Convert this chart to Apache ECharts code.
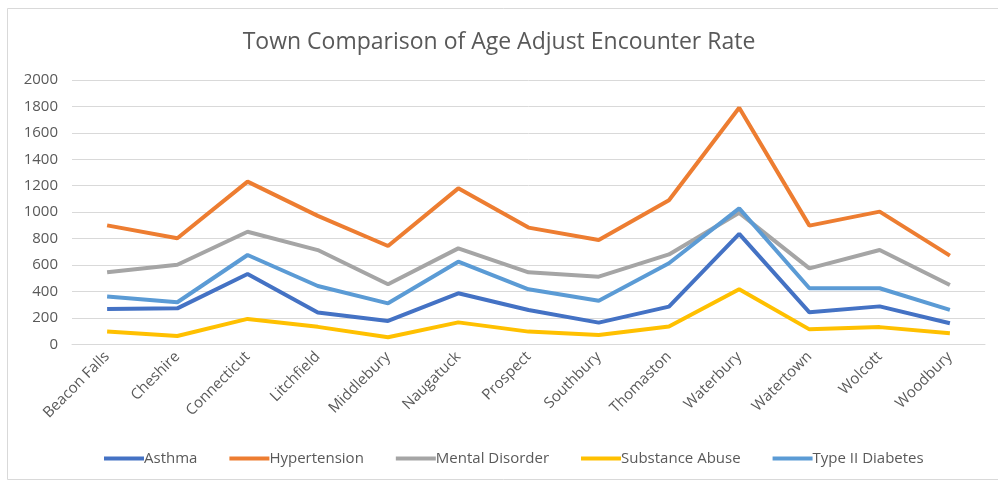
<!DOCTYPE html>
<html>
<head>
<meta charset="utf-8">
<script src="https://cdn.jsdelivr.net/npm/echarts@6/dist/echarts.min.js"></script>
<style>
html,body{margin:0;padding:0;background:#fff;}
#main{width:998px;height:482px;}
</style>
</head>
<body>
<div id="main"></div>
<script>
var categories = ['Beacon Falls','Cheshire','Connecticut','Litchfield','Middlebury','Naugatuck','Prospect','Southbury','Thomaston','Waterbury','Watertown','Wolcott','Woodbury'];
var asthma = [267, 272, 532, 240, 177, 386, 260, 164, 285, 835, 242, 287, 159];
var hypertension = [900, 802, 1231, 972, 744, 1180, 883, 789, 1090, 1790, 898, 1004, 671];
var mentalDisorder = [545, 602, 852, 713, 454, 726, 545, 512, 680, 995, 575, 714, 449];
var substanceAbuse = [96, 63, 192, 132, 53, 166, 96, 71, 134, 416, 113, 130, 83];
var typeIIDiabetes = [361, 318, 676, 441, 310, 625, 416, 330, 613, 1029, 424, 424, 260];
var yTicks = [0, 200, 400, 600, 800, 1000, 1200, 1400, 1600, 1800, 2000];

var chart = echarts.init(document.getElementById('main'));
var font = '"Open Sans", "Noto Sans", sans-serif';
function mk(name, data, color) {
  return {name: name, type: 'line', data: data, symbol: 'none', showSymbol: false,
    lineStyle: {width: 4, color: color}, itemStyle: {color: color}, animation: false};
}
chart.setOption({
  animation: false,
  backgroundColor: '#fff',
  graphic: [{type: 'rect', shape: {x: 7.5, y: 8.5, width: 1000, height: 471}, style: {fill: 'none', stroke: '#d9d9d9', lineWidth: 1}, silent: true}],
  title: {text: 'Town Comparison of Age Adjust Encounter Rate', left: 'center', top: 26,
    textStyle: {fontFamily: font, fontSize: 23, fontWeight: 'normal', color: '#595959'}},
  legend: {bottom: 11, left: 99, itemWidth: 40, itemHeight: 4, itemGap: 32,
    icon: 'rect',
    textStyle: {fontFamily: font, fontSize: 15, color: '#595959', padding: [0, 0, 0, -5]},
    data: ['Asthma','Hypertension','Mental Disorder','Substance Abuse','Type II Diabetes']},
  grid: {left: 72, right: 13, top: 80, height: 264.3, containLabel: false},
  xAxis: {type: 'category', data: categories, boundaryGap: true,
    axisLine: {show: true, lineStyle: {color: '#d9d9d9', width: 1}},
    axisTick: {show: false},
    axisLabel: {rotate: 45, interval: 0, margin: 10, fontFamily: font, fontSize: 15, color: '#595959'}},
  yAxis: {type: 'value', min: yTicks[0], max: yTicks[yTicks.length-1], interval: 200,
    axisLine: {show: false}, axisTick: {show: false},
    splitLine: {lineStyle: {color: '#d9d9d9', width: 1}},
    axisLabel: {margin: 14, fontFamily: font, fontSize: 15, color: '#595959',
      formatter: function (v) { return String(v); }}},
  series: [
    mk('Asthma', asthma, '#4472C4'),
    mk('Hypertension', hypertension, '#ED7D31'),
    mk('Mental Disorder', mentalDisorder, '#A5A5A5'),
    mk('Substance Abuse', substanceAbuse, '#FFC000'),
    mk('Type II Diabetes', typeIIDiabetes, '#5B9BD5')
  ]
});
</script>
</body>
</html>
